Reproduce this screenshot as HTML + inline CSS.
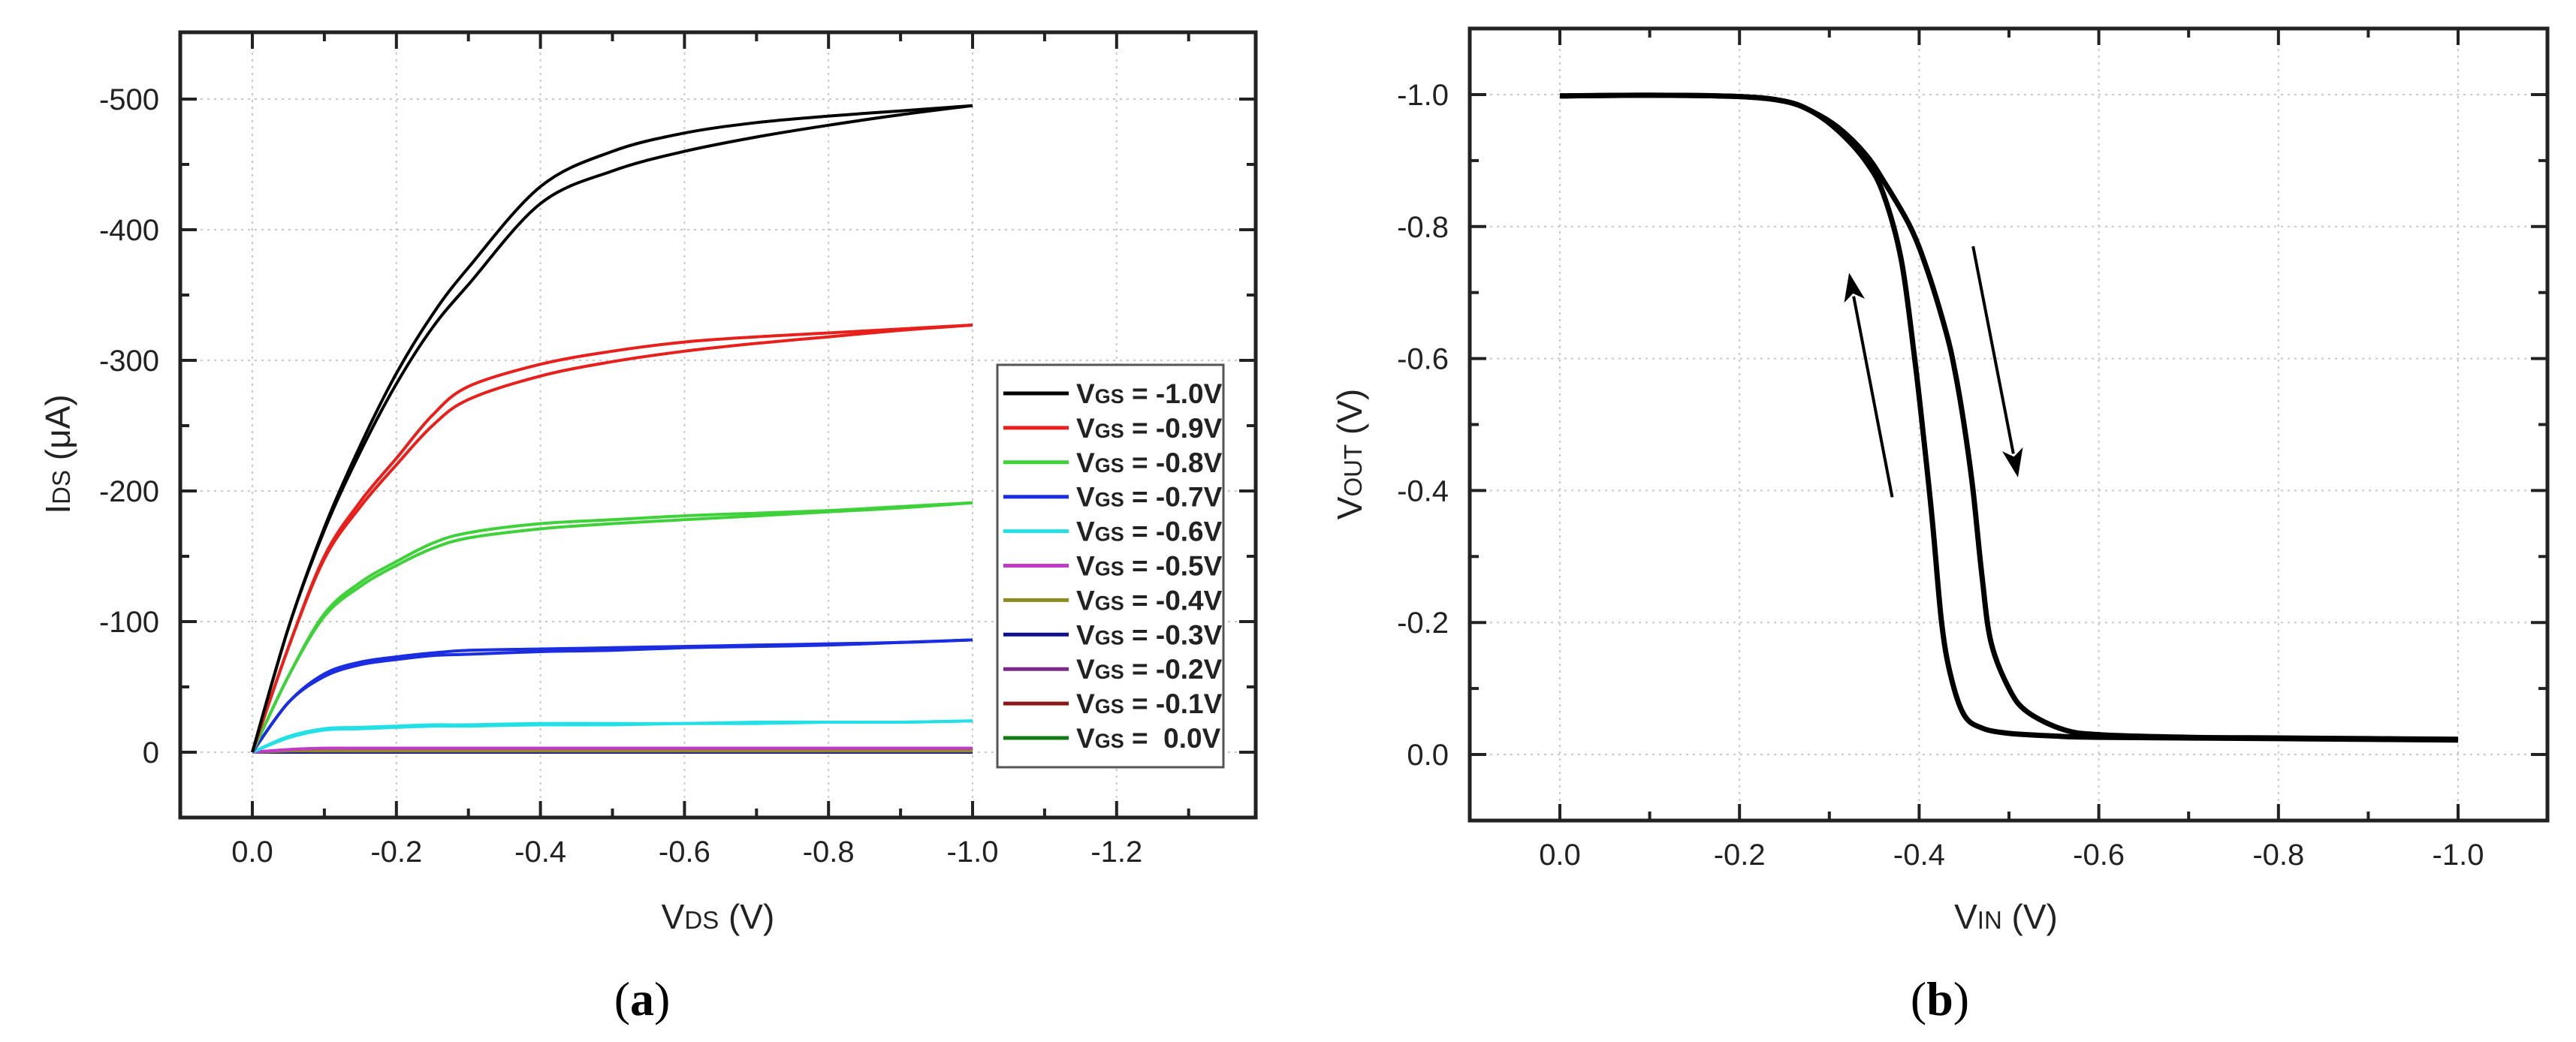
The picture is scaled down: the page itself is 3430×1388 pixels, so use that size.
<!DOCTYPE html>
<html><head><meta charset="utf-8"><style>
html,body{margin:0;padding:0;background:#fff;}
svg{display:block;font-family:"Liberation Sans",sans-serif;}
</style></head><body>
<svg id="fig" width="3430" height="1388" viewBox="0 0 3430 1388" xmlns="http://www.w3.org/2000/svg">
<g id="pa"></g>
<g id="pb"></g>
<text x="855" y="1352" font-family="Liberation Serif,serif" font-size="64" text-anchor="middle">(<tspan font-weight="bold">a</tspan>)</text>
<text x="2583" y="1352" font-family="Liberation Serif,serif" font-size="64" text-anchor="middle">(<tspan font-weight="bold">b</tspan>)</text>
</svg>
<script>
// ---------- Panel (a) data ----------
const vdsPts = [0, -0.05, -0.1, -0.15, -0.2, -0.25, -0.3, -0.4, -0.5, -0.6, -0.7, -0.8, -0.9, -1.0];
const vgsLabels = ["-1.0V","-0.9V","-0.8V","-0.7V","-0.6V","-0.5V","-0.4V","-0.3V","-0.2V","-0.1V"," 0.0V"];
const seriesColors = ["#000000","#e8201c","#3fd13a","#1a2ee0","#22e0e6","#c23ac8","#8c8c20","#10108c","#7a2a8a","#8a1818","#137a13"];
const idsForward = [
 [0,-95,-172,-235,-290,-335,-371,-433,-460,-474,-482,-487,-491,-495],
 [0,-80,-150,-192,-225,-258,-280,-297,-307,-314,-318,-321,-324,-327],
 [0,-58,-106,-130,-146,-160,-168,-175,-178,-181,-183,-185,-188,-191],
 [0,-38,-60,-69,-73,-76,-78,-79,-80,-81,-82,-83,-84,-86],
 [0,-12,-18,-19,-20,-21,-21,-22,-22,-22,-23,-23,-23,-24],
 [0,-2,-3,-3,-3,-3,-3,-3,-3,-3,-3,-3,-3,-3],
 [0,-1,-1,-1,-1,-1,-1,-1,-1,-1,-1,-1,-1,-1],
 [0,0,0,0,0,0,0,0,0,0,0,0,0,0],
 [0,-1,-2,-2,-2,-2,-2,-2,-2,-2,-2,-2,-2,-2],
 [0,0,0,0,0,0,0,0,0,0,0,0,0,0],
 [0,0,0,0,0,0,0,0,0,0,0,0,0,0]
];
const idsReverse = [
 [0,-95,-170,-230,-282,-325,-358,-420,-445,-460,-471,-480,-488,-495],
 [0,-80,-148,-188,-220,-250,-270,-288,-299,-307,-313,-318,-323,-327],
 [0,-58,-104,-127,-143,-156,-164,-171,-175,-178,-181,-184,-187,-191],
 [0,-38,-58,-67,-71,-74,-75,-77,-78,-80,-81,-82,-84,-86],
 [0,-11,-17,-18,-19,-20,-20,-21,-21,-22,-22,-23,-23,-24],
 [0,-2,-3,-3,-3,-3,-3,-3,-3,-3,-3,-3,-3,-3],
 [0,-1,-1,-1,-1,-1,-1,-1,-1,-1,-1,-1,-1,-1],
 [0,0,0,0,0,0,0,0,0,0,0,0,0,0],
 [0,-1,-2,-2,-2,-2,-2,-2,-2,-2,-2,-2,-2,-2],
 [0,0,0,0,0,0,0,0,0,0,0,0,0,0],
 [0,0,0,0,0,0,0,0,0,0,0,0,0,0]
];
const aXTicks = [0,-0.2,-0.4,-0.6,-0.8,-1.0,-1.2];
const aXTickLabels = ["0.0","-0.2","-0.4","-0.6","-0.8","-1.0","-1.2"];
const aYTicks = [0,-100,-200,-300,-400,-500];
const aYTickLabels = ["0","-100","-200","-300","-400","-500"];

// ---------- Panel (b) data ----------
const vinFwd  = [0,-0.1,-0.2,-0.25,-0.28,-0.31,-0.34,-0.36,-0.39,-0.41,-0.43,-0.44,-0.45,-0.46,-0.47,-0.48,-0.5,-0.52,-0.56,-0.6,-0.7,-0.8,-0.9,-1.0];
const voutFwd = [-0.998,-0.999,-0.997,-0.99,-0.975,-0.95,-0.91,-0.87,-0.8,-0.73,-0.64,-0.58,-0.5,-0.4,-0.27,-0.17,-0.1,-0.065,-0.038,-0.03,-0.026,-0.025,-0.024,-0.023];
const vinRev  = [0,-0.1,-0.2,-0.25,-0.28,-0.31,-0.34,-0.36,-0.38,-0.395,-0.405,-0.415,-0.425,-0.435,-0.45,-0.47,-0.5,-0.55,-0.6,-0.8,-1.0];
const voutRev = [-0.998,-0.999,-0.997,-0.99,-0.975,-0.945,-0.9,-0.85,-0.75,-0.6,-0.48,-0.35,-0.2,-0.12,-0.06,-0.04,-0.032,-0.028,-0.026,-0.024,-0.022];
const arrowUp = [-0.37,-0.39,-0.322,-0.73];
const arrowDown = [-0.46,-0.77,-0.51,-0.42];
const bXTicks = [0,-0.2,-0.4,-0.6,-0.8,-1.0];
const bXTickLabels = ["0.0","-0.2","-0.4","-0.6","-0.8","-1.0"];
const bYTicks = [0,-0.2,-0.4,-0.6,-0.8,-1.0];
const bYTickLabels = ["0.0","-0.2","-0.4","-0.6","-0.8","-1.0"];

const NS = "http://www.w3.org/2000/svg";
function mk(parent, tag, attrs){const e=document.createElementNS(NS,tag);for(const k in attrs)e.setAttribute(k,attrs[k]);parent.appendChild(e);return e;}
function smooth(pts){
  let d="M"+pts[0][0].toFixed(1)+","+pts[0][1].toFixed(1);
  for(let i=0;i<pts.length-1;i++){
    const p0=pts[Math.max(0,i-1)],p1=pts[i],p2=pts[i+1],p3=pts[Math.min(pts.length-1,i+2)];
    const c1=[p1[0]+(p2[0]-p0[0])/6,p1[1]+(p2[1]-p0[1])/6];
    const c2=[p2[0]-(p3[0]-p1[0])/6,p2[1]-(p3[1]-p1[1])/6];
    d+=" C"+c1[0].toFixed(1)+","+c1[1].toFixed(1)+" "+c2[0].toFixed(1)+","+c2[1].toFixed(1)+" "+p2[0].toFixed(1)+","+p2[1].toFixed(1);
  }
  return d;
}
function frame(g, L,T,R,B, xs, ys, xMinor, yMinor, xTicks, xLabels, yTicks, yLabels, labelGapY){
  xTicks.forEach(v=>{const x=xs(v);const l=mk(g,"line",{x1:x,x2:x,y1:T,y2:B,stroke:"#c8c8c8","stroke-width":2,"stroke-dasharray":"3,6"});
    
    });
  yTicks.forEach(v=>{const y=ys(v);const l=mk(g,"line",{x1:L,x2:R,y1:y,y2:y,stroke:"#c8c8c8","stroke-width":2,"stroke-dasharray":"3,6"});
    
    });
  const box=mk(g,"rect",{x:L,y:T,width:R-L,height:B-T,fill:"none",stroke:"#222","stroke-width":5});
  
  
  xMinor.forEach(v=>{const x=xs(v);const maj=xTicks.some(t=>Math.abs(t-v)<1e-6);const len=maj?22:12;
    mk(g,"line",{x1:x,x2:x,y1:B,y2:B-len,stroke:"#222","stroke-width":4});
    mk(g,"line",{x1:x,x2:x,y1:T,y2:T+len,stroke:"#222","stroke-width":4});});
  yMinor.forEach(v=>{const y=ys(v);const maj=yTicks.some(t=>Math.abs(t-v)<1e-6);const len=maj?22:12;
    mk(g,"line",{x1:L,x2:L+len,y1:y,y2:y,stroke:"#222","stroke-width":4});
    mk(g,"line",{x1:R,x2:R-len,y1:y,y2:y,stroke:"#222","stroke-width":4});});
  xTicks.forEach((v,i)=>{const t=mk(g,"text",{x:xs(v),y:B+59,"font-size":40,"text-anchor":"middle",fill:"#222"});t.textContent=xLabels[i];
    
    });
  yTicks.forEach((v,i)=>{const t=mk(g,"text",{x:L-labelGapY,y:ys(v)+14,"font-size":40,"text-anchor":"end",fill:"#222"});t.textContent=yLabels[i];
    
    });
}

// ----- Panel a -----
(function(){
  const g=document.getElementById("pa");
  const L=240,T=43,R=1672,B=1089;
  const xs=v=>336+(-v)*959;
  const ys=v=>1002-(-v)*1.74;
  const xMinor=[0.1,0,-0.1,-0.2,-0.3,-0.4,-0.5,-0.6,-0.7,-0.8,-0.9,-1.0,-1.1,-1.2,-1.3];
  const yMinor=[0,-50,-100,-150,-200,-250,-300,-350,-400,-450,-500];
  frame(g,L,T,R,B,xs,ys,xMinor,yMinor,aXTicks,aXTickLabels,aYTicks,aYTickLabels,28);
  for(let s=idsForward.length-1;s>=0;s--){
    [idsForward[s],idsReverse[s]].forEach((arr,k)=>{
      const p=mk(g,"path",{d:smooth(vdsPts.map((v,i)=>[xs(v),ys(arr[i])])),fill:"none",stroke:seriesColors[s],"stroke-width":4,"stroke-linejoin":"round"});
      
      
    });
  }
  const lg=mk(g,"g",{});
  
  
  mk(lg,"rect",{x:1328,y:486,width:301,height:536,fill:"#fff",stroke:"#555","stroke-width":3});
  vgsLabels.forEach((lab,i)=>{
    const y=524+i*45.9;
    const row=mk(lg,"g",{});
    
    
    mk(row,"line",{x1:1336,x2:1423,y1:y,y2:y,stroke:seriesColors[i],"stroke-width":5});
    const t=mk(row,"text",{x:1433,y:y+13,"font-size":37,"font-weight":"bold",fill:"#222"});
    t.innerHTML='V<tspan font-size="27">GS</tspan> = '+lab.replace(' ','\u00a0');
  });
  const xt=mk(g,"text",{x:956,y:1237,"font-size":46,"text-anchor":"middle",fill:"#222"});
  xt.innerHTML='V<tspan font-size="33">DS</tspan> (V)';
  
  
  const yt=mk(g,"text",{x:0,y:0,"font-size":46,"text-anchor":"middle",fill:"#222",transform:"translate(93,605) rotate(-90)"});
  yt.innerHTML='I<tspan font-size="33">DS</tspan> (μA)';
  
  
})();

// ----- Panel b -----
(function(){
  const g=document.getElementById("pb");
  const L=1957,T=38,R=3392,B=1093;
  const xs=v=>2077+(-v)*1196;
  const ys=v=>1005-(-v)*879;
  const xMinor=[0,-0.1,-0.2,-0.3,-0.4,-0.5,-0.6,-0.7,-0.8,-0.9,-1.0];
  const yMinor=[0,-0.1,-0.2,-0.3,-0.4,-0.5,-0.6,-0.7,-0.8,-0.9,-1.0];
  frame(g,L,T,R,B,xs,ys,xMinor,yMinor,bXTicks,bXTickLabels,bYTicks,bYTickLabels,28);
  const f=mk(g,"path",{d:smooth(vinFwd.map((v,i)=>[xs(v),ys(voutFwd[i])])),fill:"none",stroke:"#000","stroke-width":7,"stroke-linejoin":"round"});
  
  
  const r=mk(g,"path",{d:smooth(vinRev.map((v,i)=>[xs(v),ys(voutRev[i])])),fill:"none",stroke:"#000","stroke-width":7,"stroke-linejoin":"round"});
  
  
  [arrowUp,arrowDown].forEach((a,k)=>{
    const x1=xs(a[0]),y1=ys(a[1]),x2=xs(a[2]),y2=ys(a[3]);
    const ag=mk(g,"g",{});
    
    
    const ang=Math.atan2(y2-y1,x2-x1);
    const hl=38,hw=14;
    const bx=x2-hl*Math.cos(ang),by=y2-hl*Math.sin(ang);
    mk(ag,"line",{x1:x1,y1:y1,x2:bx+6*Math.cos(ang),y2:by+6*Math.sin(ang),stroke:"#000","stroke-width":4});
    const px=-Math.sin(ang),py=Math.cos(ang);
    mk(ag,"polygon",{points:`${x2},${y2} ${bx+hw*px},${by+hw*py} ${bx+10*Math.cos(ang)},${by+10*Math.sin(ang)} ${bx-hw*px},${by-hw*py}`,fill:"#000"});
  });
  const xt=mk(g,"text",{x:2671,y:1237,"font-size":46,"text-anchor":"middle",fill:"#222"});
  xt.innerHTML='V<tspan font-size="33">IN</tspan> (V)';
  
  
  const yt=mk(g,"text",{x:0,y:0,"font-size":46,"text-anchor":"middle",fill:"#222",transform:"translate(1813,605) rotate(-90)"});
  yt.innerHTML='V<tspan font-size="33">OUT</tspan> (V)';
  
  
})();
</script>
</body></html>
